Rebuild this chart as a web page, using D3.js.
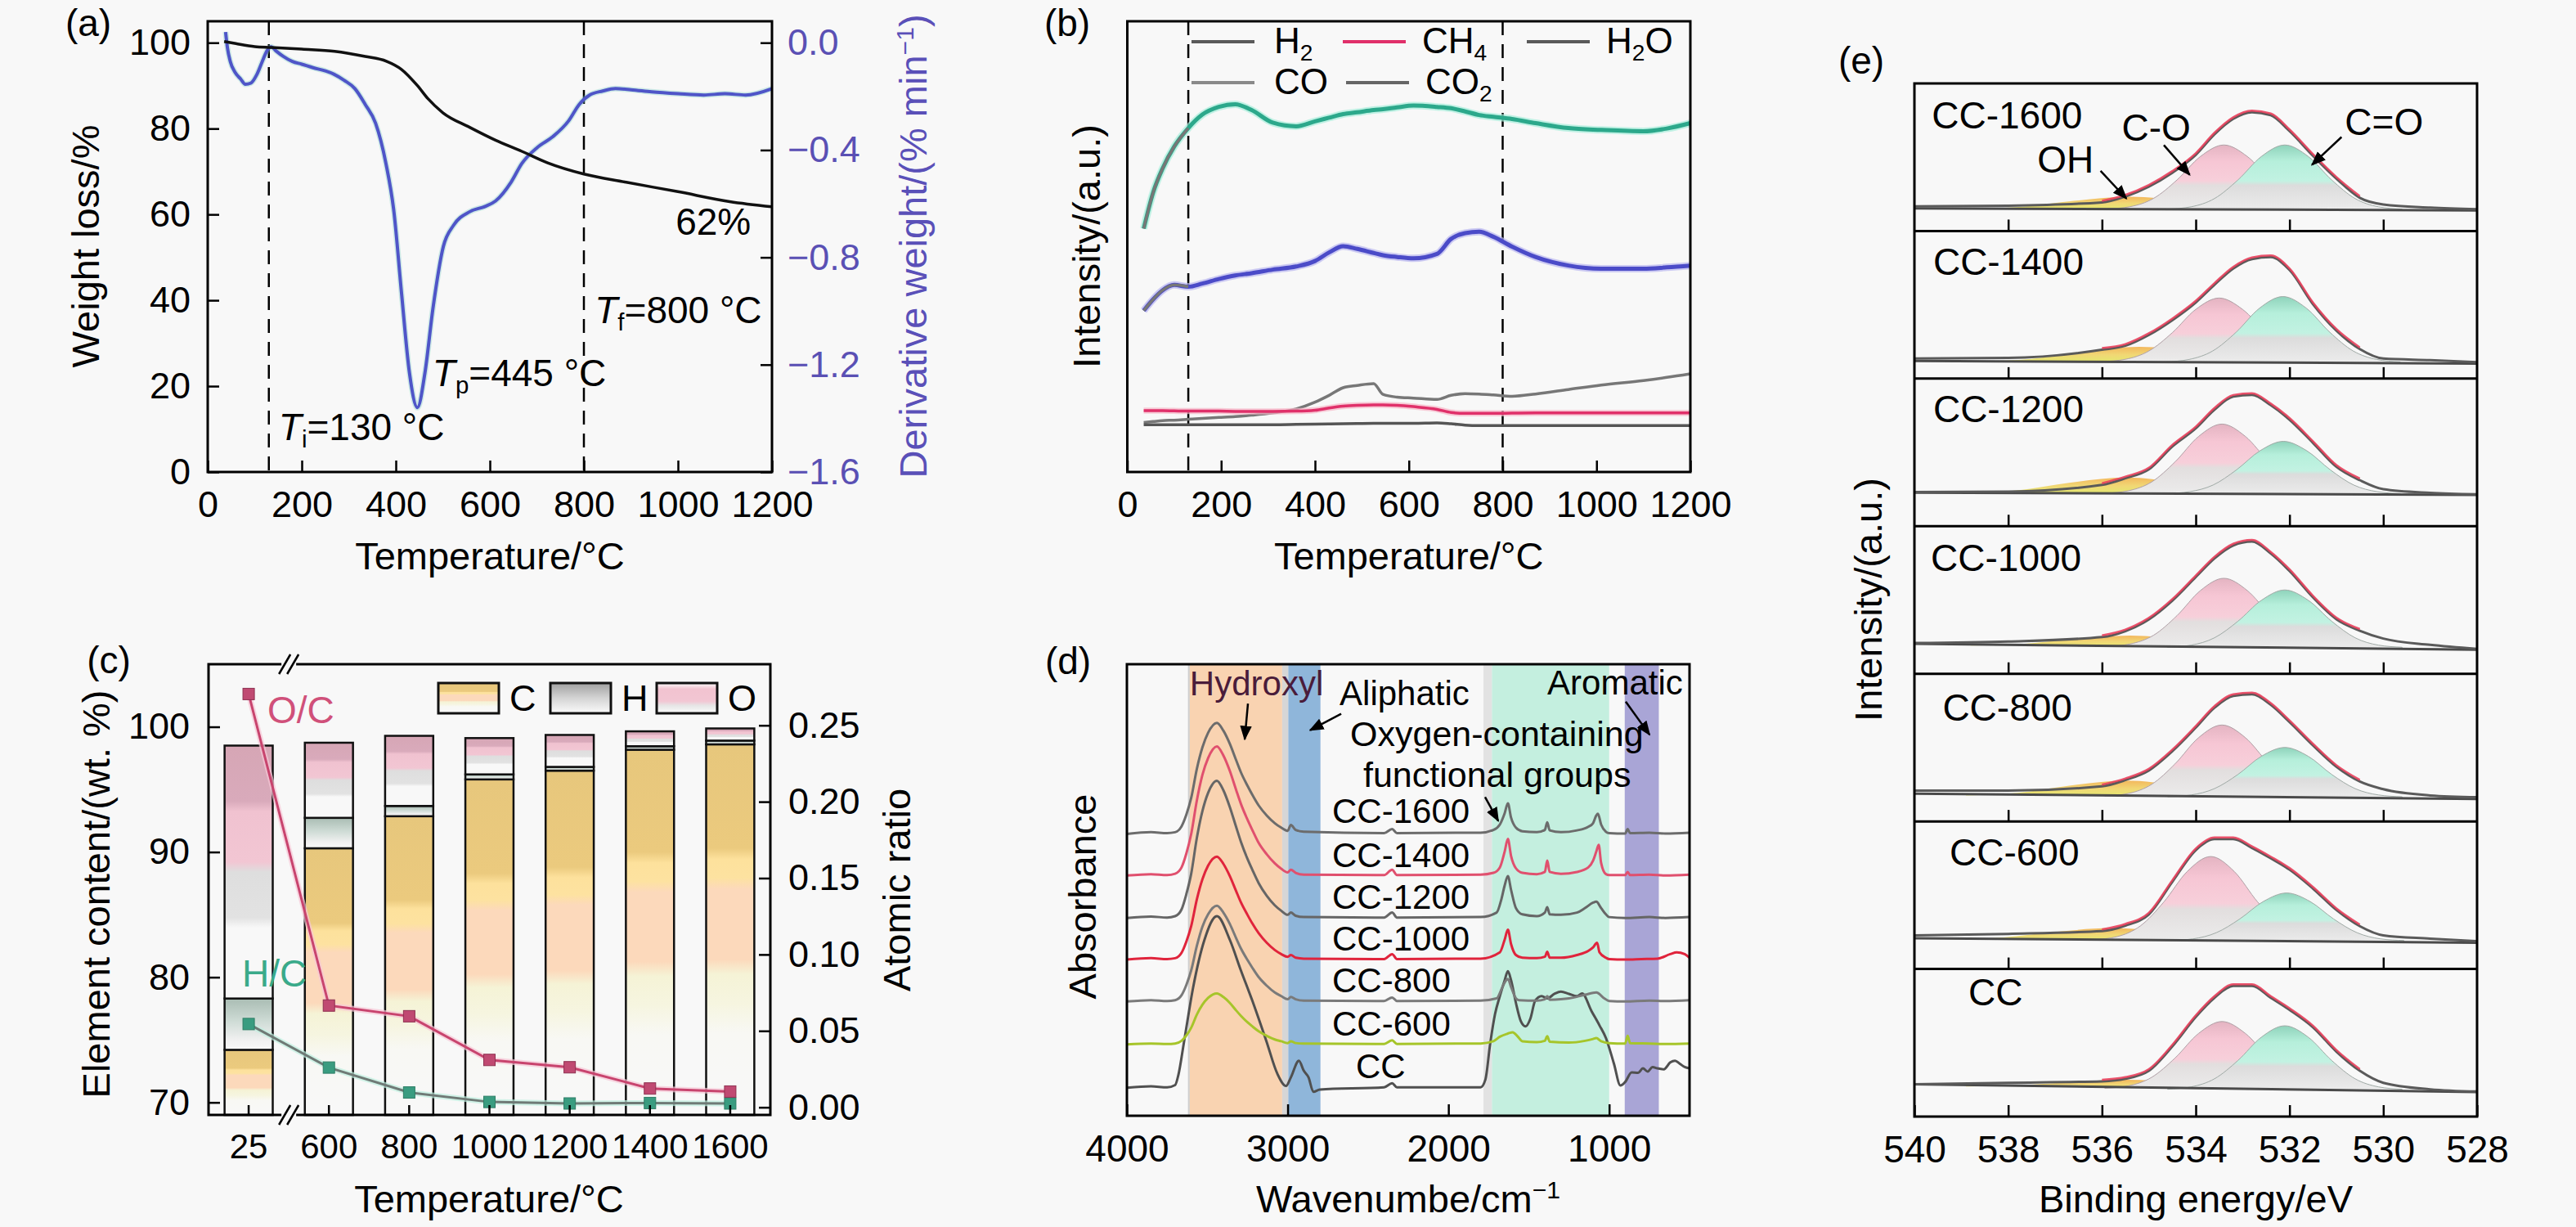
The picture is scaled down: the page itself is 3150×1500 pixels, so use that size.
<!DOCTYPE html>
<html><head><meta charset="utf-8">
<script src="https://cdn.jsdelivr.net/npm/d3@7"></script>
<style>html,body{margin:0;padding:0;background:#f8f8f8;}</style>
</head><body>
<svg id="fig" width="3150" height="1500"></svg>
<script>
// ================= DATA =================
// (a) TG / DTG
const tgTemp   = [35,60,100,135,200,270,335,380,412,446,468,500,557,612,668,723,800,890,1000,1110,1200];
const tgWeight = [100.3,99.8,99.1,98.9,98.5,98.0,96.8,95.7,93.8,90.0,87.0,83.7,80.3,77.3,74.7,72.0,69.4,67.5,65.3,63.0,61.8];
const dtgTemp  = [38,42,48,58,70,80,92,104,116,126,135,145,160,180,200,224,250,268,290,313,335,357,379,396,412,429,446,462,479,501,523,557,590,612,645,668,701,734,768,790,812,840,867,900,944,1000,1055,1100,1144,1200];
const dtgRate  = [0.04,-0.02,-0.07,-0.11,-0.135,-0.155,-0.15,-0.12,-0.07,-0.03,-0.015,-0.03,-0.05,-0.07,-0.08,-0.093,-0.105,-0.117,-0.14,-0.171,-0.23,-0.30,-0.45,-0.63,-0.93,-1.23,-1.36,-1.23,-0.99,-0.76,-0.68,-0.63,-0.61,-0.59,-0.52,-0.45,-0.39,-0.35,-0.29,-0.23,-0.195,-0.18,-0.171,-0.175,-0.183,-0.19,-0.195,-0.19,-0.195,-0.171];
const aXTicks  = [0,200,400,600,800,1000,1200];
const aYTicks  = [0,20,40,60,80,100];
const aY2Ticks = [0,-0.4,-0.8,-1.2,-1.6];
const markTemps = [130,800];

// (b) evolved gases
const bTemp = [35,55,75,100,130,160,195,230,265,310,360,400,430,460,490,525,545,575,610,660,690,720,750,780,820,870,940,1010,1100,1150,1200];
const bH2O  = [54,62,67.3,72.2,76.3,79.3,81,81.6,80.3,77.5,76.7,77.8,78.6,79.4,79.8,80.3,80.5,80.9,81.3,81.0,80.7,80.0,79.2,78.8,78.3,77.4,76.3,75.9,75.6,76.2,77.4];
const bCO2  = [35.8,38.3,40.3,41.5,41.1,41.8,42.8,43.6,44.1,44.9,45.6,46.8,48.7,50.1,49.5,48.6,48.1,47.7,47.4,48.4,51.7,53.0,53.3,52.2,50.0,47.7,45.8,45.1,45.1,45.4,45.8];
const bCO   = [11.0,11.2,11.4,11.5,11.7,11.9,12.1,12.3,12.6,13.1,14.0,15.5,17.0,18.7,19.2,19.6,17.2,16.6,16.4,16.1,17.0,17.4,17.3,17.1,16.8,17.3,18.3,19.3,20.3,21.0,21.8];
const bCH4  = [13.6,13.6,13.6,13.55,13.5,13.5,13.5,13.45,13.45,13.45,13.5,13.7,14.2,14.6,14.8,14.9,14.9,14.8,14.5,13.9,13.2,13.0,13.0,13.0,13.05,13.1,13.1,13.1,13.1,13.1,13.1];
const bH2   = [10.5,10.5,10.5,10.5,10.5,10.5,10.5,10.5,10.5,10.5,10.55,10.6,10.65,10.7,10.75,10.8,10.8,10.8,10.8,10.9,10.7,10.4,10.3,10.3,10.3,10.3,10.3,10.3,10.3,10.3,10.3];
const bXTicks = [0,200,400,600,800,1000,1200];

// (c) elemental composition
const cCats = ["25","600","800","1000","1200","1400","1600"];
const cC = [74.2,90.3,92.86,95.8,96.5,98.17,98.6];
const cH = [4.1,2.43,0.82,0.4,0.3,0.28,0.3];
const cO = [20.2,6.0,5.6,2.9,2.55,1.19,0.97];
const cOC = [0.2705,0.0666,0.0596,0.031,0.0262,0.0123,0.0103];
const cHC = [0.0545,0.026,0.0097,0.0035,0.0025,0.0028,0.0025];
const cYTicks = [70,80,90,100];
const cY2Ticks = [0,0.05,0.10,0.15,0.20,0.25];

// (d) FTIR spectra  [wavenumber, absorbance (offset)]
const dCC1600 = [[4000,62.4],[3850,62.8],[3750,62.6],[3700,62.8],[3660,64.1],[3630,66.7],[3600,70.4],[3565,76.8],[3530,81.6],[3495,84.8],[3440,87.0],[3400,85.3],[3360,82.4],[3320,78.7],[3290,76.0],[3250,73.1],[3220,71.1],[3180,68.7],[3130,66.5],[3080,64.8],[3040,63.8],[3000,63.1],[2980,64.4],[2950,63.3],[2900,62.9],[2400,62.6],[2350,63.5],[2320,62.6],[1800,62.7],[1720,63.3],[1680,64.5],[1650,67.0],[1630,69.2],[1610,66.0],[1580,63.8],[1540,63.0],[1450,62.8],[1400,63.3],[1385,65.0],[1370,63.2],[1300,62.8],[1200,63.2],[1130,64.0],[1100,64.8],[1080,66.5],[1070,66.9],[1050,64.5],[1020,62.9],[1000,62.6],[900,62.5],[885,63.5],[870,62.6],[750,62.7],[650,62.5],[500,62.7]];
const dCC1400 = [[4000,53.2],[3850,53.5],[3750,53.3],[3700,53.6],[3660,55.0],[3630,58.1],[3600,62.4],[3565,69.8],[3530,75.5],[3495,79.2],[3440,81.8],[3400,79.8],[3360,76.4],[3320,72.1],[3290,69.0],[3250,65.6],[3220,63.3],[3180,60.4],[3130,57.9],[3080,55.9],[3040,54.7],[3000,53.9],[2980,54.5],[2950,53.8],[2900,53.4],[2400,53.3],[2350,54.5],[2320,53.3],[1800,53.4],[1720,53.8],[1680,55.0],[1650,58.5],[1630,61.3],[1610,57.5],[1580,54.8],[1540,53.8],[1450,53.5],[1400,54.0],[1385,56.5],[1370,54.0],[1300,53.6],[1200,54.0],[1130,55.0],[1100,56.5],[1080,58.5],[1065,60.0],[1050,56.0],[1020,53.5],[1000,53.3],[900,53.3],[885,54.0],[870,53.3],[750,53.4],[650,53.2],[500,53.4]];
const dCC1200 = [[4000,43.8],[3850,44.1],[3750,43.9],[3700,44.2],[3660,45.7],[3630,49.1],[3600,53.6],[3565,61.5],[3530,67.5],[3495,71.5],[3440,74.2],[3400,72.1],[3360,68.4],[3320,63.9],[3290,60.6],[3250,56.9],[3220,54.5],[3180,51.5],[3130,48.7],[3080,46.6],[3040,45.4],[3000,44.5],[2980,45.0],[2950,44.3],[2900,44.0],[2400,43.9],[2350,45.0],[2320,43.9],[1800,44.0],[1700,45.0],[1670,48.0],[1650,51.0],[1630,53.1],[1610,50.0],[1580,46.0],[1540,44.6],[1450,44.2],[1400,45.0],[1385,46.2],[1370,44.6],[1300,44.5],[1200,45.0],[1150,46.0],[1100,47.2],[1080,47.4],[1050,46.0],[1020,44.6],[1000,44.0],[900,43.8],[750,44.0],[650,43.8],[500,44.0]];
const dCC1000 = [[4000,34.6],[3850,34.9],[3750,34.7],[3700,34.9],[3660,36.1],[3630,38.6],[3600,42.0],[3565,47.9],[3530,52.4],[3495,55.4],[3440,57.4],[3400,55.8],[3360,53.1],[3320,49.7],[3290,47.2],[3250,44.5],[3220,42.6],[3180,40.4],[3130,38.3],[3080,36.7],[3040,35.8],[3000,35.2],[2980,35.6],[2950,35.0],[2900,34.8],[2400,34.7],[2350,35.8],[2320,34.7],[1800,34.8],[1680,36.2],[1650,39.0],[1630,41.2],[1610,38.0],[1580,35.6],[1540,35.0],[1450,34.9],[1400,35.2],[1385,36.3],[1370,35.0],[1300,35.0],[1200,35.6],[1130,36.5],[1100,37.3],[1075,38.3],[1060,36.2],[1020,35.0],[1000,34.7],[900,34.6],[800,34.7],[700,34.8],[620,35.8],[580,36.2],[530,35.8],[500,35.0]];
const dCC800 = [[4000,25.3],[3850,25.6],[3750,25.4],[3700,25.6],[3660,26.7],[3630,29.0],[3600,32.2],[3565,37.6],[3530,41.9],[3495,44.6],[3440,46.5],[3400,45.0],[3360,42.5],[3320,39.3],[3290,37.0],[3250,34.5],[3220,32.8],[3180,30.7],[3130,28.8],[3080,27.3],[3040,26.5],[3000,25.8],[2980,26.3],[2950,25.8],[2900,25.5],[2400,25.4],[2350,26.2],[2320,25.4],[1800,25.5],[1700,26.0],[1670,28.0],[1650,29.5],[1630,30.3],[1610,28.5],[1580,26.0],[1560,25.6],[1450,25.5],[1400,25.8],[1385,26.5],[1370,25.7],[1300,25.8],[1250,26.0],[1150,26.8],[1080,27.3],[1030,26.0],[1000,25.4],[900,25.3],[750,25.5],[650,25.4],[500,25.6]];
const dCC600 = [[4000,15.8],[3850,16.0],[3750,15.9],[3700,16.0],[3660,16.6],[3630,17.8],[3600,19.5],[3565,22.4],[3530,24.6],[3495,26.1],[3440,27.1],[3400,26.3],[3360,25.0],[3320,23.3],[3290,22.1],[3250,20.7],[3220,19.8],[3180,18.7],[3130,17.7],[3080,16.9],[3040,16.5],[3000,16.1],[2980,16.5],[2950,16.1],[2900,16.0],[2400,15.9],[2350,16.7],[2320,15.9],[1800,16.0],[1720,16.5],[1680,17.5],[1630,18.2],[1600,18.5],[1570,17.6],[1540,16.5],[1450,16.3],[1400,16.6],[1385,17.6],[1370,16.4],[1250,16.2],[1150,16.6],[1100,17.0],[1080,17.2],[1050,16.5],[1000,16.1],[900,16.0],[885,17.7],[870,16.1],[750,16.0],[650,15.9],[500,16.0]];
const dCC = [[4000,6.2],[3850,6.5],[3750,6.3],[3700,6.8],[3680,9.0],[3644,16.5],[3588,28.4],[3518,38.9],[3440,44.2],[3359,38.9],[3292,32.3],[3223,25.8],[3132,16.5],[3064,9.3],[3010,6.6],[2980,8.5],[2930,12.2],[2900,10.0],[2870,8.5],[2840,5.3],[2800,5.8],[2400,6.3],[2350,7.2],[2320,6.3],[1800,6.3],[1770,8.0],[1740,16.0],[1710,22.5],[1680,26.5],[1650,30.0],[1630,32.0],[1610,30.0],[1580,25.0],[1550,21.0],[1520,19.8],[1490,21.5],[1460,25.5],[1420,26.5],[1385,26.0],[1340,27.0],[1300,27.5],[1250,27.0],[1200,26.5],[1168,27.1],[1110,23.2],[1060,20.0],[1020,17.2],[970,11.5],[930,6.7],[900,7.5],[860,9.6],[820,9.5],[790,10.5],[760,9.8],[730,10.8],[700,10.5],[660,10.3],[620,11.8],[590,12.2],[560,11.5],[530,10.8],[500,10.5]];
const dNames = ["CC-1600","CC-1400","CC-1200","CC-1000","CC-800","CC-600","CC"];
const dBandWn = [[3620,3609],[3609,3034],[3034,2996],[2996,2796],[1782,1729],[1729,1000],[903,691]];
const dXTicks = [4000,3000,2000,1000];

// (e) XPS O1s
const eNames = ["CC-1600","CC-1400","CC-1200","CC-1000","CC-800","CC-600","CC"];
const eGrid = [540,538,536,535.5,535,534.5,534,533.6,533.2,532.8,532.4,532,531.5,531,530.5,530,529,528];
const eEnv1600 = [16.7,17.2,19.4,23.4,30.1,39.5,51.6,65.5,76.0,80.5,78.5,67.7,51.0,35.5,22.5,18.0,15.9,14.8];
const eEnv1400 = [13.6,14.0,19.6,22.3,29.6,39.6,51.6,63.6,74.6,81.0,82.3,73.6,50.5,32.5,20.0,13.6,12.5,11.2];
const eEnv1200 = [23.1,23.5,28.0,32.5,38.5,54.0,66.3,79.0,87.8,89.0,82.0,72.2,56.5,40.3,31.2,25.1,22.6,21.6];
const eEnv1000 = [20.9,21.9,24.9,28.9,36.8,49.5,65.5,78.2,87.0,89.6,81.5,69.7,51.8,37.0,29.2,23.9,19.6,16.9];
const eEnv800  = [20.8,20.8,23.8,28.0,34.5,47.5,63.5,77.0,85.0,86.1,79.0,67.3,51.5,37.0,27.0,21.8,17.6,16.4];
const eEnv600  = [22.8,23.8,25.7,29.4,37.0,59.0,80.5,88.0,88.0,82.0,75.0,67.3,54.5,40.0,29.0,22.8,20.6,18.8];
const eEnvCC   = [21.9,22.9,23.9,25.6,31.0,47.5,67.5,80.5,88.5,88.5,80.5,72.3,60.5,44.0,31.0,22.9,18.5,17.0];
const eBgEnds = [[15.3,14.0],[12.0,10.2],[22.7,21.2],[20.3,16.3],[18.8,15.2],[20.8,17.8],[21.9,16.6]];
const eBgEV = [540,528];
const ePeakOffsets = [-2.5,-2,-1.5,-1,-0.5,0,0.5,1,1.5,2,2.5];
const eOHOffsets = [-3.4,-2.3,-1.2,0,1.2,2.3,3.4];
const eCOCenter  = [533.4,533.5,533.44,533.4,533.44,533.68,533.44];
const eCdOCenter = [532.1,532.14,532.13,532.1,532.1,532.06,532.1];
const eOHCenter  = [535.4,535.2,535.5,535.4,535.5,535.8,535.5];
const eCOVals = [
 [14.95,16.5,22.1,34.6,50.5,58.3,50.5,34.6,22.1,16.5,14.95],
 [11.55,13.1,18.7,31.1,46.9,54.6,46.9,31.1,18.7,13.1,11.55],
 [22.3,24.0,30.0,43.6,60.8,69.2,60.8,43.6,30.0,24.0,22.3],
 [18.5,20.2,26.1,39.4,56.4,64.7,56.4,39.4,26.1,20.2,18.5],
 [17.2,18.9,25.1,39.0,56.7,65.3,56.7,39.0,25.1,18.9,17.2],
 [19.85,21.9,29.2,45.4,66.1,76.2,66.1,45.4,29.2,21.9,19.85],
 [19.2,20.8,26.6,39.7,56.3,64.4,56.3,39.7,26.6,20.8,19.2]];
const eCdOVals = [
 [14.85,16.4,22.0,34.6,50.5,58.3,50.5,34.6,22.0,16.4,14.85],
 [11.35,13.0,18.7,31.4,47.7,55.6,47.7,31.4,18.7,13.0,11.35],
 [22.1,23.4,27.9,38.2,51.1,57.5,51.1,38.2,27.9,23.4,22.1],
 [18.0,19.4,24.4,35.6,49.8,56.8,49.8,35.6,24.4,19.4,18.0],
 [16.7,17.9,22.2,31.8,44.1,50.1,44.1,31.8,22.2,17.9,16.7],
 [19.3,20.4,24.6,33.9,45.7,51.5,45.7,33.9,24.6,20.4,19.3],
 [18.5,20.1,25.6,38.0,53.8,61.5,53.8,38.0,25.6,20.1,18.5]];
const eOHVals = [
 [15.0,16.4,20.4,23.2,20.4,16.4,15.0],
 [11.7,13.4,18.1,21.5,18.1,13.4,11.7],
 [22.6,24.3,29.4,33.0,29.4,24.3,22.6],
 [19.1,20.2,23.5,25.9,23.5,20.2,19.1],
 [17.5,19.3,24.2,27.7,24.2,19.3,17.5],
 [20.1,21.4,25.1,27.7,25.1,21.4,20.1],
 [20.4,21.2,23.3,24.9,23.3,21.2,20.4]];
const eXTicks = [540,538,536,534,532,530,528];

// ================= DRAWING =================
const FONT = '"Liberation Sans", Arial, Helvetica, sans-serif';
const svg = d3.select("#fig");
svg.append("rect").attr("width",3150).attr("height",1500).attr("fill","#f8f8f8");
const defs = svg.append("defs");
function grad(id, stops){
  const g = defs.append("linearGradient").attr("id",id).attr("x1",0).attr("y1",0).attr("x2",0).attr("y2",1);
  stops.forEach(s=>g.append("stop").attr("offset",s[0]).attr("stop-color",s[1]));
}
grad("gC",[[0,"#e7c77c"],[0.28,"#ebca7e"],[0.31,"#fde19c"],[0.36,"#fde2a0"],[0.39,"#fcd9bb"],[0.58,"#fcd9bb"],[0.62,"#f5f3d6"],[0.7,"#f6f5e0"],[0.78,"#f8f8f4"],[1,"#f8f8f8"]]);
grad("gH",[[0,"#a9bcb3"],[0.45,"#cfdcd6"],[0.8,"#f0f0f0"],[1,"#f8f8f8"]]);
grad("gHleg",[[0,"#a0a0a0"],[0.5,"#d4d4d4"],[1,"#fbfbfb"]]);
grad("gO",[[0,"#d6a6b5"],[0.22,"#d9aabb"],[0.26,"#f0c2d0"],[0.46,"#f2c6d3"],[0.5,"#dedede"],[0.68,"#e2e2e2"],[0.72,"#f8f8f8"],[1,"#f8f8f8"]]);
grad("gOleg",[[0,"#fbfbfb"],[0.2,"#f2c3d0"],[0.6,"#f2c6d3"],[0.75,"#e6e6e6"],[1,"#fbfbfb"]]);
grad("gPink",[[0,"#e4b4c2"],[0.25,"#f6c6d4"],[0.55,"#f7cfda"],[0.62,"#e2dede"],[1,"#ececec"]]);
grad("gTeal",[[0,"#8fd3bb"],[0.25,"#b6efdb"],[0.55,"#c2f2e2"],[0.62,"#dcdcdc"],[1,"#ececec"]]);
grad("gOH",[[0,"#f2b04c"],[0.5,"#f0d466"],[1,"#dfe860"]]);
defs.append("marker").attr("id","arr").attr("viewBox","0 0 10 10").attr("refX",9).attr("refY",5)
  .attr("markerWidth",18).attr("markerHeight",18).attr("markerUnits","userSpaceOnUse").attr("orient","auto")
  .append("path").attr("d","M0,1 L10,5 L0,9 z").attr("fill","#000");

function styleAxis(g, fs, color){
  g.attr("font-size",fs).attr("font-family",FONT);
  g.select(".domain").remove();
  g.selectAll(".tick line").attr("stroke","#000").attr("stroke-width",2.5);
  g.selectAll(".tick text").attr("fill",color||"#000");
}
function frameRect(g,xs,ys){
  const [x0,x1]=[Math.min(...xs),Math.max(...xs)], [y0,y1]=[Math.min(...ys),Math.max(...ys)];
  g.append("rect").attr("x",x0).attr("y",y0).attr("width",x1-x0).attr("height",y1-y0)
   .attr("fill","none").attr("stroke","#000").attr("stroke-width",3);
}
function rich(g,x,y,parts,fs,opts={}){
  const t=g.append("text").attr("x",x).attr("y",y).attr("font-size",fs).attr("font-family",FONT).attr("fill",opts.fill||"#000");
  if(opts.anchor) t.attr("text-anchor",opts.anchor);
  if(opts.transform) t.attr("transform",opts.transform);
  if(opts.dy) t.attr("dy",opts.dy);
  let shift=0;
  parts.forEach(p=>{
    if(typeof p==="string") p={t:p};
    const s=t.append("tspan").text(p.t);
    const want = p.sub? fs*0.2 : p.sup? -fs*0.36 : 0;
    if(want!==shift){ s.attr("dy",want-shift); shift=want; }
    if(p.sub||p.sup) s.attr("font-size",fs*0.64);
    if(p.it) s.attr("font-style","italic");
  });
  return t;
}
function vlabel(g,x,y,parts,fs,fill){
  return rich(g,0,0,parts,fs,{anchor:"middle",transform:`translate(${x},${y}) rotate(-90)`,dy:"0.35em",fill});
}
function dashed(g,x,y0,y1){
  g.append("line").attr("x1",x).attr("x2",x).attr("y1",y0).attr("y2",y1)
   .attr("stroke","#000").attr("stroke-width",2.5).attr("stroke-dasharray","17,11");
}
function arrow(g,x1,y1,x2,y2){
  g.append("line").attr("x1",x1).attr("y1",y1).attr("x2",x2).attr("y2",y2)
   .attr("stroke","#000").attr("stroke-width",2.5).attr("marker-end","url(#arr)");
}
const fmtInt = d3.format("d");

// ---------------- (a) ----------------
const ax = d3.scaleLinear().domain([0,1200]).range([254,944]);
const ayL = d3.scaleLinear().domain([0,105]).range([577,26]);
const ayR = d3.scaleLinear().domain([-1.6,0.08]).range([577,26]);
const gA = svg.append("g");
markTemps.forEach(t=>dashed(gA,ax(t),ayL(105),ayL(0)));
const dtgLine = d3.line().x(d=>ax(d[0])).y(d=>ayR(d[1])).curve(d3.curveMonotoneX);
gA.append("path").datum(d3.zip(dtgTemp,dtgRate)).attr("d",dtgLine)
  .attr("fill","none").attr("stroke","#7fcfc6").attr("stroke-width",7).attr("opacity",0.35);
gA.append("path").datum(d3.zip(dtgTemp,dtgRate)).attr("d",dtgLine)
  .attr("fill","none").attr("stroke","#4f55c8").attr("stroke-width",4);
gA.append("path").datum(d3.zip(tgTemp,tgWeight))
  .attr("d",d3.line().x(d=>ax(d[0])).y(d=>ayL(d[1])).curve(d3.curveMonotoneX))
  .attr("fill","none").attr("stroke","#111").attr("stroke-width",3.5);
frameRect(gA,ax.range(),ayL.range());
styleAxis(gA.append("g").attr("transform",`translate(0,${ayL(0)})`)
  .call(d3.axisBottom(ax).tickValues(aXTicks).tickFormat(fmtInt).tickSizeInner(-14).tickSizeOuter(0).tickPadding(23)),45);
styleAxis(gA.append("g").attr("transform",`translate(${ax(0)},0)`)
  .call(d3.axisLeft(ayL).tickValues(aYTicks).tickFormat(fmtInt).tickSizeInner(-14).tickSizeOuter(0).tickPadding(21)),45);
styleAxis(gA.append("g").attr("transform",`translate(${ax(1200)},0)`)
  .call(d3.axisRight(ayR).tickValues(aY2Ticks).tickSizeInner(-14).tickSizeOuter(0).tickPadding(19)
  .tickFormat(d=>d===0?"0.0":d3.format(".1f")(d))),45,"#5a50b4");
rich(gA,599,696,["Temperature/°C"],47,{anchor:"middle"});
vlabel(gA,105,301,["Weight loss/%"],47);
vlabel(gA,1117,301,["Derivative weight/(% min",{t:"−1",sup:true},")"],47,"#5a50b8");
rich(gA,108,44,["(a)"],46,{anchor:"middle"});
rich(gA,ax(995),ayL(55.3),["62%"],46);
rich(gA,ax(823),ayL(34.7),[{t:"T",it:true},{t:"f",sub:true},"=800 °C"],46);
rich(gA,ax(478),ayL(20.0),[{t:"T",it:true},{t:"p",sub:true},"=445 °C"],46);
rich(gA,ax(151),ayL(7.4),[{t:"T",it:true},{t:"i",sub:true},"=130 °C"],46);

// ---------------- (b) ----------------
const bx = d3.scaleLinear().domain([0,1200]).range([1378.5,2067]);
const by = d3.scaleLinear().domain([0,100]).range([577,26]);
const gB = svg.append("g");
markTemps.forEach(t=>dashed(gB,bx(t),by(100),by(0)));
const bLine = d3.line().x(d=>bx(d[0])).y(d=>by(d[1])).curve(d3.curveMonotoneX);
const bSeries = [
  {v:bH2O,c:"#2ca88b",w:5,halo:"#a8eedc"},
  {v:bCO2,c:"#4b4bc8",w:5,halo:"#b9b6f0"},
  {v:bCO,c:"#777777",w:3.5},
  {v:bCH4,c:"#e0306a",w:3.5,halo:"#f6b6c8"},
  {v:bH2,c:"#555555",w:3.5}];
bSeries.forEach(s=>{
  const pts=d3.zip(bTemp,s.v);
  if(s.halo) gB.append("path").datum(pts).attr("d",bLine).attr("fill","none").attr("stroke",s.halo).attr("stroke-width",s.w+4).attr("opacity",0.7);
  gB.append("path").datum(pts).attr("d",bLine).attr("fill","none").attr("stroke",s.c).attr("stroke-width",s.w);
  if(s.w===5) gB.append("path").datum(pts.filter(d=>d[0]<=130)).attr("d",bLine).attr("fill","none").attr("stroke","#777").attr("stroke-width",3.5);
});
frameRect(gB,bx.range(),by.range());
styleAxis(gB.append("g").attr("transform",`translate(0,${by(0)})`)
  .call(d3.axisBottom(bx).tickValues(bXTicks).tickFormat(fmtInt).tickSizeInner(-14).tickSizeOuter(0).tickPadding(23)),45);
rich(gB,(bx(0)+bx(1200))/2,696,["Temperature/°C"],47,{anchor:"middle"});
vlabel(gB,1329,301,["Intensity/(a.u.)"],47);
rich(gB,1305,44,["(b)"],46,{anchor:"middle"});
const bLegend = [
  {lx:1457,ly:51,tx:1558,c:"#5a5a5a",p:["H",{t:"2",sub:true}]},
  {lx:1642,ly:51,tx:1739,c:"#e0306a",p:["CH",{t:"4",sub:true}]},
  {lx:1867,ly:51,tx:1964,c:"#5a5a5a",p:["H",{t:"2",sub:true},"O"]},
  {lx:1457,ly:101,tx:1558,c:"#8a8a8a",p:["CO"]},
  {lx:1646,ly:101,tx:1743,c:"#666666",p:["CO",{t:"2",sub:true}]}];
bLegend.forEach(l=>{
  gB.append("line").attr("x1",l.lx).attr("x2",l.lx+77).attr("y1",l.ly).attr("y2",l.ly).attr("stroke",l.c).attr("stroke-width",4);
  rich(gB,l.tx,l.ly+14,l.p,44);
});

// ---------------- (c) ----------------
const cx = d3.scaleBand().domain(cCats).range([255,942]).paddingInner(0.4).paddingOuter(0.2);
const cyL = d3.scaleLinear().domain([69,105]).range([1363,812]);
const cyR = d3.scaleLinear().domain([-0.005,0.29]).range([1363,812]);
const gC = svg.append("g");
const bw = cx.bandwidth();
cCats.forEach((cat,i)=>{
  const segs=[{y0:69,y1:cC[i],f:"url(#gC)"},{y0:cC[i],y1:cC[i]+cH[i],f:"url(#gH)"},{y0:cC[i]+cH[i],y1:cC[i]+cH[i]+cO[i],f:"url(#gO)"}];
  segs.forEach(s=>{
    gC.append("rect").attr("x",cx(cat)).attr("width",bw).attr("y",cyL(s.y1)).attr("height",cyL(s.y0)-cyL(s.y1))
      .attr("fill",s.f).attr("stroke","#111").attr("stroke-width",2.5);
  });
});
const cLine = (arr)=>d3.line().x((d,i)=>cx(cCats[i])+bw/2).y(d=>cyR(d))(arr);
gC.append("path").attr("d",cLine(cHC)).attr("fill","none").attr("stroke","#bff0e0").attr("stroke-width",7).attr("opacity",0.7);
gC.append("path").attr("d",cLine(cHC)).attr("fill","none").attr("stroke","#6f7a76").attr("stroke-width",3);
gC.append("path").attr("d",cLine(cOC)).attr("fill","none").attr("stroke","#f7c6d6").attr("stroke-width",7).attr("opacity",0.7);
gC.append("path").attr("d",cLine(cOC)).attr("fill","none").attr("stroke","#c8446e").attr("stroke-width",3);
cHC.forEach((v,i)=>gC.append("rect").attr("x",cx(cCats[i])+bw/2-7).attr("y",cyR(v)-7).attr("width",14).attr("height",14).attr("fill","#3a9c80").attr("stroke","#2e7e66").attr("stroke-width",1));
cOC.forEach((v,i)=>gC.append("rect").attr("x",cx(cCats[i])+bw/2-7).attr("y",cyR(v)-7).attr("width",14).attr("height",14).attr("fill","#c04a72").attr("stroke","#8e3050").attr("stroke-width",1));
frameRect(gC,[255,942],cyL.range());
const gapX = (cx("25")+bw+cx("600"))/2;
[cyL(105),cyL(69)].forEach(yy=>{
  gC.append("rect").attr("x",gapX-9).attr("y",yy-4).attr("width",18).attr("height",8).attr("fill","#f8f8f8");
  [-5,5].forEach(o=>gC.append("line").attr("x1",gapX+o-7).attr("y1",yy+12).attr("x2",gapX+o+7).attr("y2",yy-12).attr("stroke","#000").attr("stroke-width",2.5));
});
styleAxis(gC.append("g").attr("transform",`translate(255,0)`)
  .call(d3.axisLeft(cyL).tickValues(cYTicks).tickFormat(fmtInt).tickSizeInner(-14).tickSizeOuter(0).tickPadding(23)),45);
styleAxis(gC.append("g").attr("transform",`translate(942,0)`)
  .call(d3.axisRight(cyR).tickValues(cY2Ticks).tickSizeInner(-14).tickSizeOuter(0).tickPadding(22).tickFormat(d3.format(".2f"))),45);
styleAxis(gC.append("g").attr("transform",`translate(0,${cyL(69)})`)
  .call(d3.axisBottom(cx).tickSizeInner(-12).tickSizeOuter(0).tickPadding(23)),42);
rich(gC,598,1482,["Temperature/°C"],47,{anchor:"middle"});
vlabel(gC,118,1093,["Element content/(wt. %)"],47);
vlabel(gC,1097,1088,["Atomic ratio"],47);
rich(gC,133,823,["(c)"],46,{anchor:"middle"});
rich(gC,cx("25")+bw/2+23,cyR(cOC[0])+36,["O/C"],46,{fill:"#d0507a"});
rich(gC,cx("25")+bw/2-8,cyR(cHC[0])-46,["H/C"],46,{fill:"#3aaa8a"});
const cLeg=[{x:536,t:"C",f:"url(#gC)"},{x:673,t:"H",f:"url(#gHleg)"},{x:803,t:"O",f:"url(#gOleg)"}];
cLeg.forEach(l=>{
  gC.append("rect").attr("x",l.x).attr("y",835).attr("width",74).attr("height",37).attr("fill",l.f).attr("stroke","#111").attr("stroke-width",3);
  rich(gC,l.x+87,869,[l.t],45);
});

// ---------------- (d) ----------------
const dx = d3.scaleLinear().domain([4000,500]).range([1378,2066]);
const dy = d3.scaleLinear().domain([0,100]).range([1364,812]);
const gD = svg.append("g");
const dBandColors = ["#cfcfcf","#f9d3b1","#d6d6d6","#8fb6da","#e2e2e2","#c4efdf","#a9a5d6"];
dBandWn.forEach((b,i)=>{
  gD.append("rect").attr("x",dx(b[0])).attr("width",dx(b[1])-dx(b[0])).attr("y",dy(100)).attr("height",dy(0)-dy(100)).attr("fill",dBandColors[i]);
});
const dSpectra=[dCC1600,dCC1400,dCC1200,dCC1000,dCC800,dCC600,dCC];
const dColors=["#6c6c6c","#e0506e","#666666","#e0243c","#7a7a7a","#a6c52a","#505050"];
const dLine=d3.line().x(d=>dx(d[0])).y(d=>dy(d[1])).curve(d3.curveMonotoneX);
dSpectra.slice().reverse().forEach((s,k)=>{
  const i=dSpectra.length-1-k;
  gD.append("path").datum(s).attr("d",dLine).attr("fill","none").attr("stroke",dColors[i]).attr("stroke-width",3);
});
frameRect(gD,dx.range(),dy.range());
styleAxis(gD.append("g").attr("transform",`translate(0,${dy(0)})`)
  .call(d3.axisBottom(dx).tickValues(dXTicks).tickSizeInner(-14).tickSizeOuter(0).tickPadding(23).tickFormat(fmtInt)),46);
rich(gD,1722,1482,["Wavenumbe/cm",{t:"−1",sup:true}],47,{anchor:"middle"});
vlabel(gD,1324,1096,["Absorbance"],47);
rich(gD,1306,824,["(d)"],46,{anchor:"middle"});
const dLabelA=[64.9,55.1,45.8,36.6,27.4,17.8,8.3];
dNames.forEach((n,i)=>rich(gD,dx(i===6?2576:2723),dy(dLabelA[i]),[n],42));
rich(gD,dx(3609),dy(93.1),["Hydroxyl"],42,{fill:"#4a1c3a"});
rich(gD,dx(2677),dy(90.9),["Aliphatic"],42);
rich(gD,dx(2611),dy(81.9),["Oxygen-containing"],43);
rich(gD,dx(2530),dy(72.8),["functional groups"],43);
rich(gD,dx(1385),dy(93.3),["Aromatic"],42);
arrow(gD,dx(3247),dy(91.3),dx(3267),dy(83.4));
arrow(gD,dx(2667),dy(89),dx(2860),dy(85.4));
arrow(gD,dx(1772),dy(70.6),dx(1690),dy(65.3));
arrow(gD,dx(897),dy(91.7),dx(749),dy(84.4));

// ---------------- (e) ----------------
const ex = d3.scaleLinear().domain([540,528]).range([2341,3029]);
const eTop=102, eBot=1365, eH=(eBot-eTop)/7;
const gE = svg.append("g");
const eEnvs=[eEnv1600,eEnv1400,eEnv1200,eEnv1000,eEnv800,eEnv600,eEnvCC];
const eLabelPos=[[539.63,69.5],[539.6,70.1],[539.6,70.6],[539.65,69.5],[539.4,68.4],[539.25,70.3],[538.85,75.3]];
eNames.forEach((name,i)=>{
  const top=eTop+i*eH, bot=top+eH;
  const ey=d3.scaleLinear().domain([0,100]).range([bot,top]);
  const bg=eBgEnds[i];
  const bgAt=e=>bg[0]+(bg[1]-bg[0])*(eBgEV[0]-e)/(eBgEV[0]-eBgEV[1]);
  const area=d3.area().x(d=>ex(d[0])).y0(d=>ey(bgAt(d[0]))).y1(d=>ey(d[1])).curve(d3.curveMonotoneX);
  const line=d3.line().x(d=>ex(d[0])).y(d=>ey(d[1])).curve(d3.curveMonotoneX);
  const comp=(c,offs,vals)=>offs.map((o,k)=>[c+o,vals[k]]).sort((a,b)=>b[0]-a[0]);
  const oh=comp(eOHCenter[i],eOHOffsets,eOHVals[i]);
  const co=comp(eCOCenter[i],ePeakOffsets,eCOVals[i]);
  const cdo=comp(eCdOCenter[i],ePeakOffsets,eCdOVals[i]);
  gE.append("path").datum(oh).attr("d",area).attr("fill","url(#gOH)").attr("opacity",0.9);
  gE.append("path").datum(co).attr("d",area).attr("fill","url(#gPink)").attr("stroke","#b0a0a6").attr("stroke-width",1);
  gE.append("path").datum(cdo).attr("d",area).attr("fill","url(#gTeal)").attr("stroke","#a0aaa6").attr("stroke-width",1);
  gE.append("path").datum(eBgEV.map((e,k)=>[e,bg[k]])).attr("d",line).attr("fill","none").attr("stroke","#4a4a4a").attr("stroke-width",3);
  const env=d3.zip(eGrid,eEnvs[i]);
  gE.append("path").datum(env).attr("d",line).attr("fill","none").attr("stroke","#5a5a5a").attr("stroke-width",3);
  gE.append("path").datum(env.filter(d=>d[0]<=536.6&&d[0]>=530.2)).attr("d",line).attr("fill","none")
    .attr("stroke","#e8405c").attr("stroke-width",2.5).attr("transform","translate(0,-2)").attr("opacity",0.9);
  rich(gE,ex(eLabelPos[i][0]),ey(eLabelPos[i][1]),[name],46);
  const axB=d3.axisBottom(ex).tickSizeInner(-14).tickSizeOuter(0).tickPadding(23);
  if(i<6) axB.tickValues(eXTicks.slice(1,6)).tickFormat("");
  else axB.tickValues(eXTicks).tickFormat(fmtInt);
  styleAxis(gE.append("g").attr("transform",`translate(0,${bot})`).call(axB),46);
  if(i<6) gE.append("line").attr("x1",ex(540)).attr("x2",ex(528)).attr("y1",bot).attr("y2",bot).attr("stroke","#000").attr("stroke-width",3);
  if(i===0){
    rich(gE,ex(535.58),ey(61),["C-O"],46);
    rich(gE,ex(530.82),ey(64.9),["C=O"],46);
    rich(gE,ex(537.38),ey(39.4),["OH"],46);
    arrow(gE,ex(536.03),ey(40.8),ex(535.48),ey(22.0));
    arrow(gE,ex(534.68),ey(58.2),ex(534.13),ey(38.1));
    arrow(gE,ex(530.89),ey(63.7),ex(531.52),ey(44.9));
  }
});
frameRect(gE,ex.range(),[eTop,eBot]);
rich(gE,(ex(540)+ex(528))/2,1482,["Binding energy/eV"],47,{anchor:"middle"});
vlabel(gE,2285,733,["Intensity/(a.u.)"],47);
rich(gE,2276,90,["(e)"],46,{anchor:"middle"});
</script>
</body></html>
